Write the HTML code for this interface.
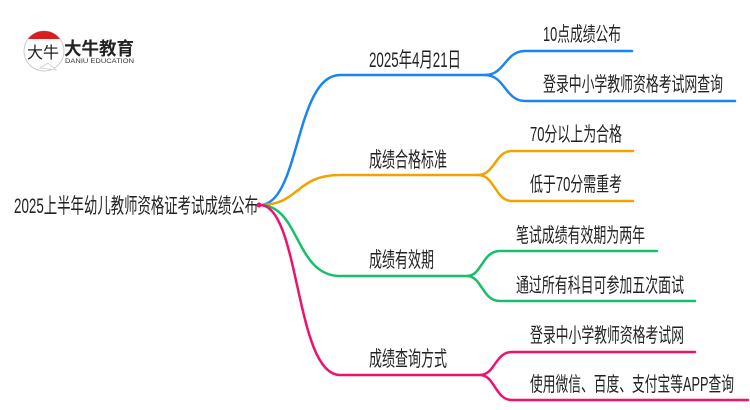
<!DOCTYPE html>
<html><head><meta charset="utf-8"><style>
html,body{margin:0;padding:0;background:#fff;width:750px;height:410px;overflow:hidden}
text{font-family:"Liberation Sans","Noto Sans CJK SC",sans-serif;font-size:20px;fill:#222}
</style></head><body>
<svg width="750" height="410" viewBox="0 0 750 410" xmlns="http://www.w3.org/2000/svg">
<g fill="none" stroke-width="2.5" stroke-linecap="round">
<path d="M260 205 C300 205 295 75 340 75 L485 75" stroke="#1a84f5"/>
<path d="M485 75 C505 75 505 51 525 51 L632 51 M485 75 C505 75 505 101 525 101 L735 101" stroke="#1a84f5"/>
<path d="M260 205 C300 205 295 175 340 175 L478 175" stroke="#f2a300"/>
<path d="M478 175 C495 175 495 151 512 151 L633 151 M478 175 C495 175 495 201 512 201 L633 201" stroke="#f2a300"/>
<path d="M260 205 C300 205 295 276 340 276 L467 276" stroke="#16c06a"/>
<path d="M467 276 C482 276 482 251 500 251 L657 251 M467 276 C482 276 482 301 500 301 L695 301" stroke="#16c06a"/>
<path d="M260 205 C300 205 295 375 340 375 L480 375" stroke="#f0106e"/>
<path d="M480 375 C495 375 495 352 512 352 L695 352 M480 375 C495 375 495 400 512 400 L748 400" stroke="#f0106e"/>
</g>
<circle cx="259" cy="205" r="2.5" fill="#f0106e"/>
<text x="14" y="213" textLength="244" lengthAdjust="spacingAndGlyphs" style="font-size:21px">2025上半年幼儿教师资格证考试成绩公布</text>
<text x="369" y="67" textLength="92" lengthAdjust="spacingAndGlyphs" style="font-size:21px">2025年4月21日</text>
<text x="543" y="41" textLength="78" lengthAdjust="spacingAndGlyphs">10点成绩公布</text>
<text x="543" y="91" textLength="180" lengthAdjust="spacingAndGlyphs">登录中小学教师资格考试网查询</text>
<text x="369" y="167" textLength="78" lengthAdjust="spacingAndGlyphs" style="font-size:21px">成绩合格标准</text>
<text x="530" y="141" textLength="92" lengthAdjust="spacingAndGlyphs">70分以上为合格</text>
<text x="530" y="191" textLength="92" lengthAdjust="spacingAndGlyphs">低于70分需重考</text>
<text x="369" y="267" textLength="65" lengthAdjust="spacingAndGlyphs" style="font-size:21px">成绩有效期</text>
<text x="516" y="242" textLength="129" lengthAdjust="spacingAndGlyphs">笔试成绩有效期为两年</text>
<text x="516" y="292" textLength="168" lengthAdjust="spacingAndGlyphs">通过所有科目可参加五次面试</text>
<text x="369" y="366" textLength="78" lengthAdjust="spacingAndGlyphs" style="font-size:21px">成绩查询方式</text>
<text x="530" y="342" textLength="154" lengthAdjust="spacingAndGlyphs">登录中小学教师资格考试网</text>
<text x="530" y="391" textLength="204" lengthAdjust="spacingAndGlyphs">使用微信、百度、支付宝等APP查询</text>
<g>
<circle cx="44" cy="51" r="20" fill="#fff" stroke="#ccc" stroke-width="1"/>
<path d="M28 39 A20 20 0 0 1 60 39 Z" fill="#d81e1e"/>
<path d="M40 68 L56 70 L48 63 Z" fill="#fff" stroke="#ccc" stroke-width="0.8"/>
<text x="27" y="58" style="font-size:16px;fill:#222">大牛</text>
<text x="64" y="55" style="font-size:18px;font-weight:bold;fill:#222" textLength="70" lengthAdjust="spacingAndGlyphs">大牛教育</text>
<text x="65" y="63" style="font-size:6px;fill:#333" textLength="69" lengthAdjust="spacingAndGlyphs">DANIU EDUCATION</text>
</g>
</svg>
</body></html>
